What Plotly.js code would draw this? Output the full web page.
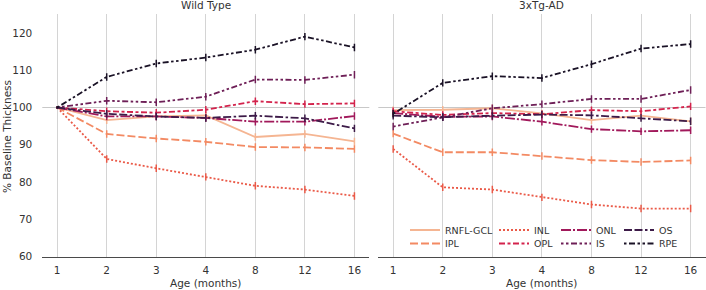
<!DOCTYPE html>
<html>
<head>
<meta charset="utf-8">
<script src="https://cdn.plot.ly/plotly-3.0.1.min.js"></script>
<style>
html,body{margin:0;padding:0;background:#fff;}
#chart{width:706px;height:290px;}
</style>
</head>
<body>
<div id="chart"></div>
<script>
// ---- data ----
const ages = ['1', '2', '3', '4', '8', '12', '16'];
const layers = ['RNFL-GCL', 'IPL', 'INL', 'OPL', 'ONL', 'IS', 'OS', 'RPE'];
const panelTitles = ['Wild Type', '3xTg-AD'];
const xTitle = 'Age (months)';
const yTitle = '% Baseline Thickness';
const yTicks = [60, 70, 80, 90, 100, 110, 120];
const baseline = 100;

// Wild Type
const wtRNFL = [100, 96.6, 97.6, 97.9, 92.1, 92.9, 90.9];
const wtIPL  = [100, 92.9, 91.7, 90.8, 89.4, 89.3, 88.9];
const wtINL  = [100, 86.2, 83.7, 81.4, 79.0, 78.0, 76.3];
const wtOPL  = [100, 99.0, 98.6, 99.4, 101.7, 100.9, 101.1];
const wtONL  = [100, 97.6, 97.6, 97.2, 96.2, 96.2, 97.7];
const wtIS   = [100, 101.8, 101.4, 102.9, 107.5, 107.4, 108.8];
const wtOS   = [100, 98.3, 97.6, 97.2, 97.8, 97.1, 94.4];
const wtRPE  = [100, 108.2, 111.8, 113.4, 115.5, 119.0, 116.1];

// 3xTg-AD
const tgRNFL = [99.3, 99.4, 99.8, 98.4, 96.6, 97.8, 96.3];
const tgIPL  = [93.0, 88.0, 88.0, 87.0, 85.9, 85.4, 85.8];
const tgINL  = [88.9, 78.6, 78.0, 75.9, 74.0, 72.9, 72.9];
const tgOPL  = [99.0, 98.0, 98.5, 98.2, 99.3, 99.0, 100.3];
const tgONL  = [98.5, 97.5, 97.6, 96.2, 94.2, 93.6, 93.9];
const tgIS   = [94.9, 97.4, 99.8, 100.9, 102.3, 102.3, 104.7];
const tgOS   = [97.8, 97.4, 97.8, 98.1, 97.9, 97.2, 96.3];
const tgRPE  = [98.3, 106.6, 108.4, 107.9, 111.6, 115.8, 117.0];

// error bar half-lengths
const errWT = [0.3, 1.0, 1.0, 1.0, 1.0, 1.0, 1.0];
const errTG = [1.0, 1.0, 1.0, 1.0, 1.0, 1.0, 1.0];

// ---- styles ----
const colors = ['#f5b592', '#f38a63', '#ea5a48', '#d3234c', '#a1195b', '#6e1f57', '#3d1b48', '#1a1226'];
const dashes = ['solid', '8px,3px', '2px,2px', '6px,2.5px,3px,2.5px', '10px,2px,2px,2px',
  '2.5px,2.5px,2.5px,2.5px,6px,2.5px', '8px,2.5px,8px,2.5px,2.5px,2.5px', '2.5px,2.5px,6px,2.5px,2.5px,2.5px'];

const wtData = [wtRNFL, wtIPL, wtINL, wtOPL, wtONL, wtIS, wtOS, wtRPE];
const tgData = [tgRNFL, tgIPL, tgINL, tgOPL, tgONL, tgIS, tgOS, tgRPE];

const W = 706, H = 290;
const FONT = 'DejaVu Sans, sans-serif';
const TXT = '#333333';

// legend layout (column/row per layer, pixel positions)
const legCol = [0, 0, 1, 1, 2, 2, 3, 3];
const legRow = [0, 1, 0, 1, 0, 1, 0, 1];
const colLinePx = [405, 494, 556, 619];
const rowPx = [230, 243.5];

const traces = [];
layers.forEach((name, i) => {
  traces.push({
    type: 'scatter', mode: 'lines', x: ages, y: wtData[i], name: name,
    xaxis: 'x', yaxis: 'y', showlegend: false,
    line: {color: colors[i], width: 1.8, dash: dashes[i]},
    error_y: {type: 'data', array: errWT, visible: true, color: colors[i], thickness: 1.5, width: 0}
  });
});
layers.forEach((name, i) => {
  traces.push({
    type: 'scatter', mode: 'lines', x: ages, y: tgData[i], name: name,
    xaxis: 'x2', yaxis: 'y2', showlegend: true,
    legend: i === 0 ? 'legend' : 'legend' + (i + 1),
    line: {color: colors[i], width: 1.8, dash: dashes[i]},
    error_y: {type: 'data', array: errTG, visible: true, color: colors[i], thickness: 1.5, width: 0}
  });
});

const leftDom = [42.3 / W, 369.3 / W];
const rightDom = [378.3 / W, 705.5 / W];
const yDom = [1 - 256.7 / H, 1 - 13.5 / H];

const xCommon = {
  type: 'category', range: [-0.3, 6.3], showgrid: true, gridcolor: '#d4d4d4', gridwidth: 1,
  showline: true, linecolor: '#4a4a4a', linewidth: 1.5, ticks: '', ticklabelstandoff: 3,
  tickfont: {family: FONT, size: 10.5, color: TXT}, zeroline: false, fixedrange: true
};
const yCommon = {
  range: [60, 125.2], tickvals: yTicks, showgrid: false, showline: false, zeroline: false,
  ticks: '', fixedrange: true
};

const layout = {
  width: W, height: H, margin: {l: 0, r: 0, t: 0, b: 0},
  paper_bgcolor: '#ffffff', plot_bgcolor: '#ffffff',
  font: {family: FONT, color: TXT},
  xaxis: Object.assign({}, xCommon, {domain: leftDom, anchor: 'y'}),
  xaxis2: Object.assign({}, xCommon, {domain: rightDom, anchor: 'y2'}),
  yaxis: Object.assign({}, yCommon, {domain: yDom, anchor: 'x', showticklabels: true,
    ticklabelstandoff: 9, tickfont: {family: FONT, size: 10.5, color: TXT}}),
  yaxis2: Object.assign({}, yCommon, {domain: yDom, anchor: 'x2', matches: 'y', showticklabels: false}),
  shapes: [
    {type: 'line', xref: 'x domain', yref: 'y', x0: 0, x1: 1, y0: baseline, y1: baseline,
      line: {color: '#c8c8c8', width: 1}, layer: 'below'},
    {type: 'line', xref: 'x2 domain', yref: 'y2', x0: 0, x1: 1, y0: baseline, y1: baseline,
      line: {color: '#c8c8c8', width: 1}, layer: 'below'}
  ],
  annotations: [
    {text: panelTitles[0], xref: 'paper', yref: 'paper', x: (leftDom[0] + leftDom[1]) / 2, y: 1 - 5.5 / H,
      xanchor: 'center', yanchor: 'middle', showarrow: false, font: {family: FONT, size: 10.5, color: TXT}},
    {text: panelTitles[1], xref: 'paper', yref: 'paper', x: (rightDom[0] + rightDom[1]) / 2, y: 1 - 5.5 / H,
      xanchor: 'center', yanchor: 'middle', showarrow: false, font: {family: FONT, size: 10.5, color: TXT}},
    {text: xTitle, xref: 'paper', yref: 'paper', x: (leftDom[0] + leftDom[1]) / 2, y: 1 - 283 / H,
      xanchor: 'center', yanchor: 'middle', showarrow: false, font: {family: FONT, size: 10.5, color: TXT}},
    {text: xTitle, xref: 'paper', yref: 'paper', x: (rightDom[0] + rightDom[1]) / 2, y: 1 - 283 / H,
      xanchor: 'center', yanchor: 'middle', showarrow: false, font: {family: FONT, size: 10.5, color: TXT}},
    {text: yTitle, xref: 'paper', yref: 'paper', x: 7 / W, y: 1 - 137 / H, textangle: -90,
      xanchor: 'center', yanchor: 'middle', showarrow: false, font: {family: FONT, size: 10.5, color: TXT}}
  ]
};

layers.forEach((name, i) => {
  const key = i === 0 ? 'legend' : 'legend' + (i + 1);
  layout[key] = {
    x: colLinePx[legCol[i]] / W, y: 1 - rowPx[legRow[i]] / H, xref: 'paper', yref: 'paper',
    xanchor: 'left', yanchor: 'middle', bgcolor: 'rgba(0,0,0,0)', borderwidth: 0,
    font: {family: FONT, size: 9.5, color: TXT}
  };
});

Plotly.newPlot('chart', traces, layout, {displayModeBar: false, staticPlot: true});
</script>
</body>
</html>
